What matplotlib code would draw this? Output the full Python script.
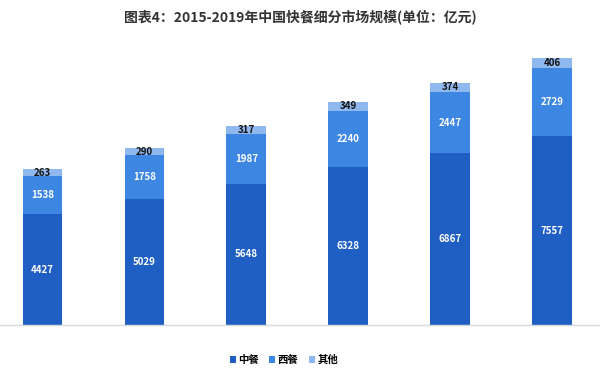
import matplotlib
matplotlib.use("Agg")
import matplotlib.pyplot as plt
from matplotlib.patches import Patch

plt.rcParams['font.family'] = ['Noto Sans CJK SC', 'DejaVu Sans']

years = ['2014', '2015', '2016', '2017', '2018', '2019']
zhongcan = [4427, 5029, 5648, 6328, 6867, 7557]
xican = [1538, 1758, 1987, 2240, 2447, 2729]
qita = [263, 290, 317, 349, 374, 406]
series_names = ['中餐', '西餐', '其他']
colors = ['#1F5FC4', '#3D86E2', '#8FB8EE']
title = '图表4：2015-2019年中国快餐细分市场规模(单位：亿元)'

fig = plt.figure(figsize=(6.0, 3.73), dpi=100)
ax = fig.add_axes([0.0, 48/373, 1.0, 285/373])

x = list(range(len(years)))
w = 0.39
ax.bar(x, zhongcan, w, color=colors[0], label=series_names[0])
ax.bar(x, xican, w, bottom=zhongcan, color=colors[1], label=series_names[1])
bottom3 = [a + b for a, b in zip(zhongcan, xican)]
ax.bar(x, qita, w, bottom=bottom3, color=colors[2], label=series_names[2])

for i in x:
    ax.text(i, zhongcan[i] / 2, str(zhongcan[i]), ha='center', va='center',
            color='white', fontsize=7, fontweight='bold')
    ax.text(i, zhongcan[i] + xican[i] / 2, str(xican[i]), ha='center', va='center',
            color='white', fontsize=7, fontweight='bold')
    ax.text(i, bottom3[i] + qita[i] / 2, str(qita[i]), ha='center', va='center',
            color='#111111', fontsize=7, fontweight='bold')

ax.set_xlim(-0.417, 5.47)
ax.set_ylim(0, 11400)
for s in ['top', 'right', 'left']:
    ax.spines[s].set_visible(False)
ax.spines['bottom'].set_color('#D9D9D9')
ax.spines['bottom'].set_linewidth(1.0)
ax.set_xticks([])
ax.set_yticks([])

fig.text(0.5, 1 - 17/373, title, ha='center', va='center', fontsize=10,
         fontweight='bold', color='#333333')

handles = [Patch(facecolor=c, edgecolor='none') for c in colors]
fig.legend(handles, series_names, loc='center', bbox_to_anchor=(284/600, 1 - 360/373),
           ncol=3, frameon=False, handlelength=0.55, handleheight=0.55,
           handletextpad=0.25, columnspacing=1.0, prop={'weight': 'bold', 'size': 7.5})

fig.savefig('out.png', dpi=100)
